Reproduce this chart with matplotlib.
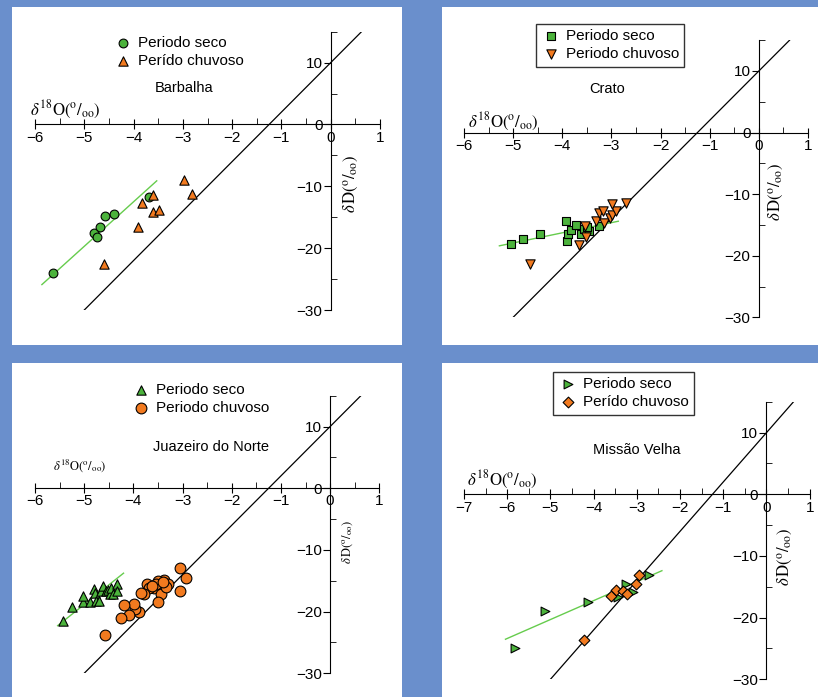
import numpy as np
import matplotlib
matplotlib.use("Agg")
import matplotlib.pyplot as plt
from matplotlib.patches import Rectangle
from matplotlib.ticker import MultipleLocator

plt.rcParams['font.family'] = ['Liberation Sans', 'DejaVu Sans']
plt.rcParams['mathtext.fontset'] = 'stix'

W, H = 818, 697

# Barbalha
bar_seco_x = [-5.64, -4.80, -4.75, -4.68, -4.57, -4.40, -3.69]
bar_seco_y = [-24.0, -17.6, -18.2, -16.6, -14.8, -14.5, -11.8]
bar_chuva_x = [-2.97, -2.81, -3.61, -3.82, -3.61, -3.49, -3.91, -4.59]
bar_chuva_y = [-9.0, -11.3, -11.4, -12.7, -14.1, -13.8, -16.6, -22.6]
bar_fit = (7.2, 16.3, -5.86, -3.53)   # slope, intercept, x from, x to

# Crato
cra_seco_x = [-5.05, -4.80, -4.45, -3.92, -3.91, -3.89, -3.82, -3.72, -3.62, -3.55, -3.46, -3.50, -3.25]
cra_seco_y = [-18.1, -17.3, -16.5, -14.4, -17.6, -16.4, -15.8, -15.0, -16.4, -15.7, -16.0, -15.3, -15.1]
cra_chuva_x = [-4.66, -3.65, -3.52, -3.53, -3.31, -3.15, -3.25, -3.17, -3.03, -2.98, -2.91, -2.99, -2.71]
cra_chuva_y = [-21.4, -18.2, -16.9, -15.1, -14.3, -14.7, -13.0, -12.7, -13.8, -13.4, -12.7, -11.6, -11.4]
cra_fit = (1.65, -9.68, -5.28, -2.86)

# Juazeiro do Norte
jua_seco_x = [-5.44, -5.25, -5.03, -5.02, -4.88, -4.81, -4.78, -4.76, -4.69, -4.66, -4.62, -4.56,
              -4.51, -4.48, -4.46, -4.41, -4.34, -4.33]
jua_seco_y = [-21.5, -19.3, -18.5, -17.4, -18.5, -16.4, -17.0, -18.2, -18.3, -16.6, -15.8, -16.6,
              -16.5, -17.1, -16.1, -17.2, -15.5, -16.6]
jua_chuva_x = [-3.05, -2.93, -3.05, -3.37, -3.30, -3.46, -3.49, -3.58, -3.73, -3.68, -3.78, -3.85, -3.43,
               -3.49, -3.88, -3.97, -3.99, -4.08, -4.20, -4.26, -4.57, -3.34, -3.53, -3.40, -3.62]
jua_chuva_y = [-12.9, -14.6, -16.6, -14.9, -15.5, -15.6, -15.1, -16.1, -15.6, -16.1, -17.2, -17.0, -17.2,
               -18.4, -20.0, -19.5, -18.8, -20.6, -18.9, -21.1, -23.8, -16.0, -15.6, -15.2, -15.8]
jua_fit = (6.35, 12.9, -5.54, -4.20)

# Missao Velha
mv_seco_x = [-5.81, -5.13, -4.12, -3.44, -3.25, -3.08, -2.72]
mv_seco_y = [-24.9, -18.9, -17.4, -16.6, -14.6, -15.8, -13.1]
mv_chuva_x = [-4.23, -3.60, -3.48, -3.33, -3.22, -3.02, -2.96]
mv_chuva_y = [-23.6, -16.5, -15.5, -15.7, -16.2, -14.6, -13.1]
mv_fit = (3.07, -4.96, -6.04, -2.42)

# global meteoric water line
gmwl = (8.0, 10.0, -5.0, 0.625)

BLUE = '#6a8fcc'
GREEN = '#4cb33c'
ORANGE = '#f27a1f'
LGREEN = '#66cc4d'


def fx(x):
    return x / W


def fy(y):
    return 1 - y / H


def rect(x0, y0, x1, y1):
    return [x0 / W, 1 - y1 / H, (x1 - x0) / W, (y1 - y0) / H]


fig = plt.figure(figsize=(W / 100, H / 100), dpi=100)
fig.patch.set_facecolor(BLUE)

for x0, y0, x1, y1 in [(12, 7, 402, 345), (442, 7, 818, 345), (12, 363, 402, 697), (442, 363, 818, 697)]:
    fig.add_artist(Rectangle((x0 / W, 1 - y1 / H), (x1 - x0) / W, (y1 - y0) / H,
                             transform=fig.transFigure, facecolor='white', edgecolor='none', zorder=0))

O18 = r'$\delta^{18}\mathrm{O}(^{\mathrm{o}}/_{\mathrm{oo}})$'
DD = r'$\delta\,\mathrm{D}(^{\mathrm{o}}/_{\mathrm{oo}})$'


def panel(box, xmin, sx, sy, cx, cy, m1, m2, s1, s2, fit, lab1, lab2, leg, frame, title, o18, dd, lsize=12):
    ax = fig.add_axes(rect(*box))
    ax.patch.set_alpha(0)
    ax.set_xlim(xmin, 1)
    ax.set_ylim(-30, 15)
    for k in ['top', 'right']:
        ax.spines[k].set_visible(False)
    ax.spines['left'].set_position(('data', 0))
    ax.spines['bottom'].set_position(('data', 0))
    ax.xaxis.set_major_locator(MultipleLocator(1))
    ax.xaxis.set_minor_locator(MultipleLocator(0.5))
    ax.yaxis.set_major_locator(MultipleLocator(10))
    ax.yaxis.set_minor_locator(MultipleLocator(5))
    ax.tick_params(axis='x', which='major', direction='inout', length=7, labelsize=11, pad=1)
    ax.tick_params(axis='x', which='minor', direction='in', length=4)
    ax.tick_params(axis='y', which='major', direction='out', length=5, labelsize=11, pad=1)
    ax.tick_params(axis='y', which='minor', direction='in', length=4)

    a, b, x0, x1 = gmwl
    xs = np.array([x0, x1])
    ax.plot(xs, a * xs + b, color='black', lw=0.9, zorder=2)
    a, b, x0, x1 = fit
    xs = np.array([x0, x1])
    ax.plot(xs, a * xs + b, color=LGREEN, lw=1.0, zorder=2)

    ax.scatter(sx, sy, marker=m1, s=s1, c=GREEN, edgecolors='black', linewidths=0.8, zorder=3, label=lab1)
    ax.scatter(cx, cy, marker=m2, s=s2, c=ORANGE, edgecolors='black', linewidths=0.8, zorder=3, label=lab2)

    lg = ax.legend(loc='upper left', bbox_to_anchor=(fx(leg[0]), fy(leg[1])), bbox_transform=fig.transFigure,
                   frameon=frame, fontsize=11, handletextpad=0.4, labelspacing=0.25, borderpad=0.35,
                   handlelength=1.2, borderaxespad=0, fancybox=False)
    if frame:
        lg.get_frame().set_edgecolor('black')
        lg.get_frame().set_linewidth(1.0)

    fig.text(fx(title[0]), fy(title[1]), title[2], ha='center', va='center', fontsize=10.5)
    fig.text(fx(o18[0]), fy(o18[1]), O18, ha='left', va='center', fontsize=lsize)
    fig.text(fx(dd[0]), fy(dd[1]), DD, ha='center', va='center', rotation=90, fontsize=lsize)
    return ax


panel((35, 31.7, 380, 310), -6, bar_seco_x, bar_seco_y, bar_chuva_x, bar_chuva_y, 'o', '^', 40, 45,
      bar_fit, 'Periodo seco', 'Perído chuvoso', (108, 31), False,
      (184, 88, 'Barbalha'), (30, 110, O18), (351, 184))

panel((464, 40.2, 808, 317.3), -6, cra_seco_x, cra_seco_y, cra_chuva_x, cra_chuva_y, 's', 'v', 38, 45,
      cra_fit, 'Periodo seco', 'Periodo chuvoso', (536, 24), True,
      (607, 89, 'Crato'), (468, 122, O18), (776, 192))

panel((35, 395.7, 379.3, 673.3), -6, jua_seco_x, jua_seco_y, jua_chuva_x, jua_chuva_y, '^', 'o', 45, 60,
      jua_fit, 'Periodo seco', 'Periodo chuvoso', (126, 378), False,
      (211, 447, 'Juazeiro do Norte'), (53, 466, O18), (348, 542), lsize=9)

panel((464, 401.8, 809.7, 679.3), -7, mv_seco_x, mv_seco_y, mv_chuva_x, mv_chuva_y, '>', 'D', 40, 30,
      mv_fit, 'Periodo seco', 'Perído chuvoso', (553, 372), True,
      (637, 450, 'Missão Velha'), (467, 480, O18), (785, 557))

fig.savefig('out.png', dpi=100, facecolor=fig.get_facecolor())
